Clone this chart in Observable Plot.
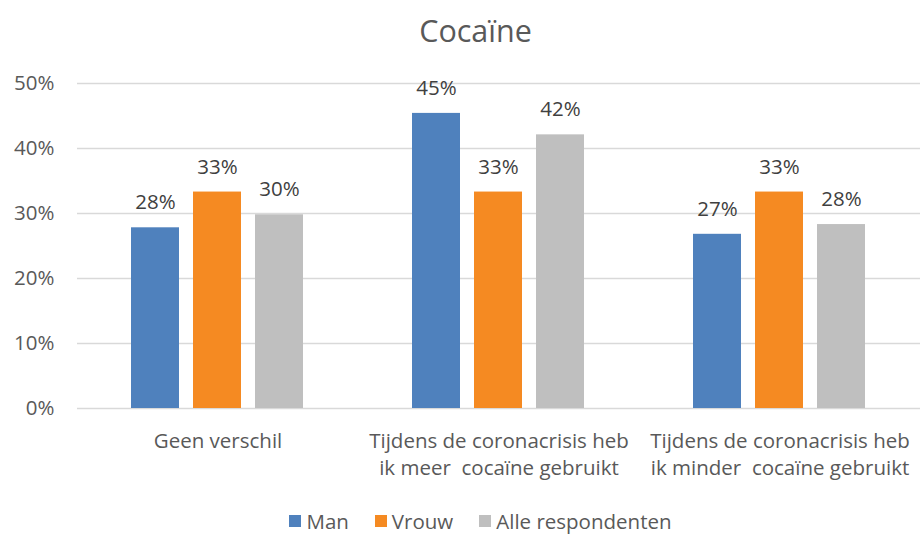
<!DOCTYPE html>
<html>
<head>
<meta charset="utf-8">
<script src="https://cdn.jsdelivr.net/npm/d3@7"></script>
<script src="https://cdn.jsdelivr.net/npm/@observablehq/plot@0.6"></script>
<style>
  body { margin: 0; background: #fff; font-family: "Open Sans", Lato, sans-serif; }
  #wrap { width: 921px; height: 539px; position: relative; overflow: hidden; }
  #title { position: absolute; top: 9px; left: 30px; width: 891px; text-align: center; font-size: 30.5px; color: #595959; line-height: 42px; }
  #chart { position: absolute; top: 60px; left: 0; }
  #legend { position: absolute; top: 507px; left: 0; width: 921px; display: flex; justify-content: center; gap: 26px; font-size: 20.5px; color: #595959; line-height: 28px; padding-left: 40px; box-sizing: border-box; }
  #legend span.item { display: flex; align-items: center; gap: 5px; }
  #legend span.sw { width: 12px; height: 12px; display: inline-block; }
  svg text { white-space: pre; }
</style>
</head>
<body>
<div id="wrap">
  <div id="title">Cocaïne</div>
  <div id="chart"></div>
  <div id="legend"></div>
</div>
<script>
const categories = [
  "Geen verschil",
  "Tijdens de coronacrisis heb\nik meer  cocaïne gebruikt",
  "Tijdens de coronacrisis heb\nik minder  cocaïne gebruikt"
];
const series = ["Man", "Vrouw", "Alle respondenten"];
const colors = ["#4F81BD", "#F58A22", "#BFBFBF"];
const man = [0.278, 0.454, 0.268];
const vrouw = [0.333, 0.333, 0.333];
const alle = [0.298, 0.421, 0.283];
const yTicks = [0, 0.1, 0.2, 0.3, 0.4, 0.5];

const values = [man, vrouw, alle];
const data = [];
categories.forEach((c, i) => series.forEach((s, j) => data.push({cat: c, series: s, value: values[j][i]})));

const chart = Plot.plot({
  width: 921,
  height: 430,
  marginLeft: 76,
  marginRight: 0,
  marginTop: 23,
  marginBottom: 82,
  style: {fontFamily: "'Open Sans', Lato, sans-serif", background: "white"},
  fx: {domain: categories, padding: 0, label: null, axis: null},
  x: {domain: series, paddingInner: 0.22, paddingOuter: 0.85, axis: null},
  y: {domain: [0, 0.5], axis: null},
  color: {domain: series, range: colors},
  marks: [
    Plot.ruleY(yTicks, {stroke: "#D9D9D9", strokeWidth: 1.5}),
    Plot.axisY(yTicks, {tickSize: 0, tickPadding: 23, tickFormat: d3.format(".0%"), fontSize: 20.5, fill: "#595959", label: null, anchor: "left"}),
    Plot.barY(data, {fx: "cat", x: "series", y: "value", fill: "series"}),
    Plot.text(data, {fx: "cat", x: "series", y: "value", text: d => d3.format(".0%")(d.value), dy: -25, fontSize: 20.5, fill: "#404040"}),
    Plot.axisFx({anchor: "bottom", tickSize: 0, tickPadding: 20, fontSize: 20.5, fill: "#595959", lineHeight: 1.32, label: null})
  ]
});
document.getElementById("chart").appendChild(chart);

const legend = document.getElementById("legend");
series.forEach((s, i) => {
  const item = document.createElement("span");
  item.className = "item";
  const sw = document.createElement("span");
  sw.className = "sw";
  sw.style.background = colors[i];
  item.appendChild(sw);
  item.appendChild(document.createTextNode(s));
  legend.appendChild(item);
});
</script>
</body>
</html>
